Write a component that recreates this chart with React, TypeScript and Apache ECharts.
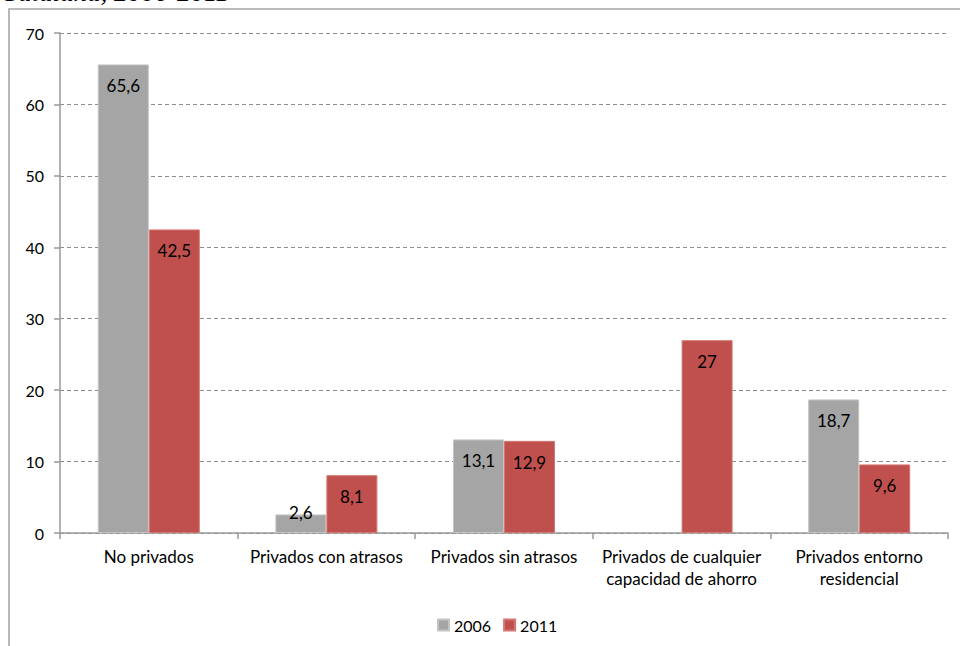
import React, { useEffect, useRef } from "react";
import * as echarts from "echarts";

const categories = [
  "No privados",
  "Privados con atrasos",
  "Privados sin atrasos",
  "Privados de cualquier\ncapacidad de ahorro",
  "Privados entorno\nresidencial",
];
const seriesNames = ["2006", "2011"];
const values2006: (number | null)[] = [65.6, 2.6, 13.1, null, 18.7];
const values2011: (number | null)[] = [42.5, 8.1, 12.9, 27, 9.6];
const titleText = "Cataluña, 2006-2011";

const FONT = "Lato, 'Noto Sans', sans-serif";

function fmt(v: number) {
  return String(v).replace(".", ",");
}

function buildData(vals: (number | null)[]) {
  return vals.map((v) => {
    if (v === null) return null;
    if (v < 5) {
      return { value: v, label: { position: "top", distance: -7 } };
    }
    return v;
  });
}

export default function App() {
  const ref = useRef<HTMLDivElement>(null);
  useEffect(() => {
    if (!ref.current) return;
    const chart = echarts.init(ref.current, null, { renderer: "svg" });
    const label = {
      show: true,
      position: "insideTop",
      distance: 13,
      color: "#000",
      fontFamily: FONT,
      fontSize: 17,
      formatter: (p: any) => fmt(p.value),
    };
    chart.setOption({
      animation: false,
      backgroundColor: "#fff",
      textStyle: { fontFamily: FONT },
      graphic: [
        {
          type: "rect",
          shape: { x: 9, y: 9, width: 1000, height: 700 },
          style: { fill: "none", stroke: "#a6a6a6", lineWidth: 1.6 },
          z: 0,
        },
        {
          type: "text",
          x: 0,
          y: -8,
          style: {
            text: titleText,
            fontFamily: "'Liberation Serif', 'Times New Roman', serif",
            fontStyle: "italic",
            fontSize: 27,
            fill: "#000",
            textAlign: "left",
            textVerticalAlign: "middle",
          },
        },
      ],
      grid: { left: 60, right: 12, top: 33, bottom: 113, containLabel: false },
      legend: {
        data: seriesNames,
        left: 432,
        top: 612,
        itemWidth: 11,
        itemHeight: 11,
        itemGap: 12,
        icon: "rect",
        textStyle: { fontFamily: FONT, fontSize: 16, color: "#000" },
      },
      xAxis: {
        type: "category",
        data: categories,
        axisLine: { lineStyle: { color: "#999", width: 1.5 } },
        axisTick: { show: true, length: 6, lineStyle: { color: "#999", width: 1.5 } },
        axisLabel: {
          color: "#000",
          fontFamily: FONT,
          fontSize: 17,
          margin: 12,
          lineHeight: 22,
          interval: 0,
        },
      },
      yAxis: {
        type: "value",
        min: 0,
        max: 70,
        interval: 10,
        axisLine: { show: true, lineStyle: { color: "#999", width: 1.5 } },
        axisTick: { show: true, length: 6, lineStyle: { color: "#999", width: 1.5 } },
        axisLabel: { color: "#000", fontFamily: FONT, fontSize: 16, margin: 16 },
        splitLine: { show: true, lineStyle: { color: "#8c8c8c", type: [4, 3], width: 1 } },
      },
      series: [
        {
          name: seriesNames[0],
          type: "bar",
          data: buildData(values2006),
          barWidth: 51,
          barGap: "0%",
          itemStyle: { color: "#a5a5a5", borderColor: "#c4c4c4", borderWidth: 1 },
          label,
        },
        {
          name: seriesNames[1],
          type: "bar",
          data: buildData(values2011),
          barWidth: 51,
          barGap: "0%",
          itemStyle: { color: "#c0504d", borderColor: "#d47774", borderWidth: 1 },
          label,
        },
      ],
    });
    return () => chart.dispose();
  }, []);
  return (
    <div
      ref={ref}
      style={{ position: "fixed", left: 0, top: 0, width: 960, height: 646 }}
    />
  );
}
